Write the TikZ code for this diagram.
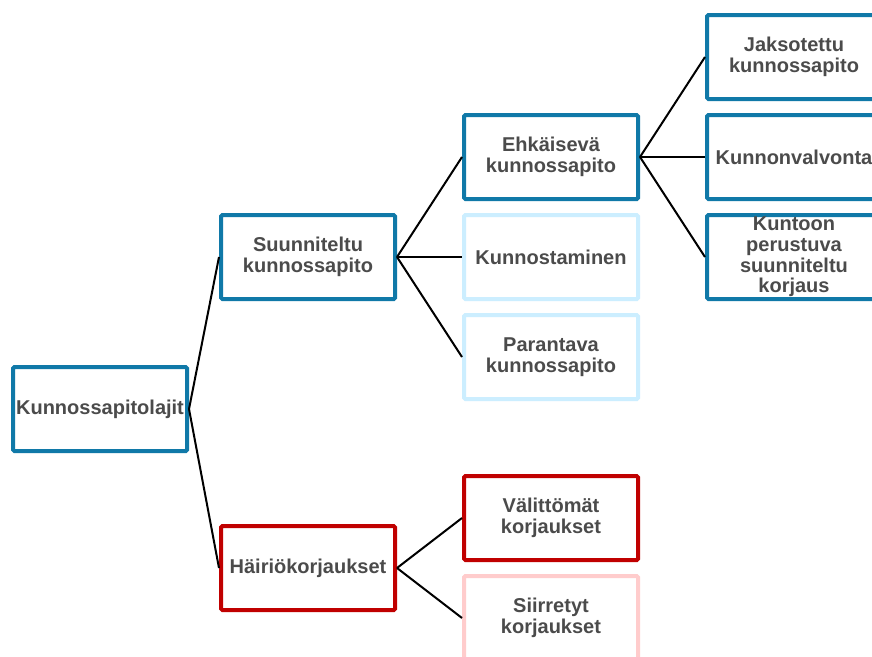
\documentclass[tikz,border=0pt]{standalone}
\usepackage{fontspec}
\setmainfont{Liberation Sans}
\definecolor{boxblue}{HTML}{1079A8}
\definecolor{paleblue}{HTML}{CCEEFF}
\definecolor{boxred}{HTML}{C00000}
\definecolor{palered}{HTML}{FFCCCC}
\definecolor{txt}{HTML}{4B4B4B}
\tikzset{
  box/.style={draw, line width=3pt, rounded corners=1pt, fill=white,
    minimum width=130.5pt, minimum height=63pt, inner sep=0pt,
    align=center, text=txt, font=\fontsize{15pt}{15.5pt}\selectfont\bfseries},
  bluebox/.style={box, draw=boxblue},
  lightblue/.style={box, draw=paleblue},
  redbox/.style={box, draw=boxred},
  lightred/.style={box, draw=palered},
  link/.style={draw=black, line width=1.5pt}
}
\begin{document}
\begin{tikzpicture}[x=0.75pt,y=-0.75pt]
\useasboundingbox (0,0) rectangle (872,657);
\clip (0,0) rectangle (872,657);
\fill[white] (0,0) rectangle (872,657);

% tree nodes
\node[bluebox] (root) at (100,409) {Kunnossapitolajit};
\node[bluebox] (plan) at (308,257) {Suunniteltu\\kunnossapito};
\node[redbox] (fault) at (308,568) {Häiriökorjaukset};
\node[bluebox] (prev) at (551,157) {Ehkäisevä\\kunnossapito};
\node[lightblue] (restore) at (551,257) {Kunnostaminen};
\node[lightblue] (improve) at (551,357) {Parantava\\kunnossapito};
\node[redbox] (immediate) at (551,518) {Välittömät\\korjaukset};
\node[lightred] (deferred) at (551,618) {Siirretyt\\korjaukset};
\node[bluebox] (periodic) at (794,57) {Jaksotettu\\kunnossapito};
\node[bluebox] (monitor) at (794,157) {Kunnonvalvonta};
\node[bluebox] (condition) at (794,257) {Kuntoon\\perustuva\\suunniteltu\\korjaus};

% connectors
\draw[link] (root.east) -- (plan.west);
\draw[link] (root.east) -- (fault.west);
\draw[link] (plan.east) -- (prev.west);
\draw[link] (plan.east) -- (restore.west);
\draw[link] (plan.east) -- (improve.west);
\draw[link] (prev.east) -- (periodic.west);
\draw[link] (prev.east) -- (monitor.west);
\draw[link] (prev.east) -- (condition.west);
\draw[link] (fault.east) -- (immediate.west);
\draw[link] (fault.east) -- (deferred.west);
\end{tikzpicture}
\end{document}
